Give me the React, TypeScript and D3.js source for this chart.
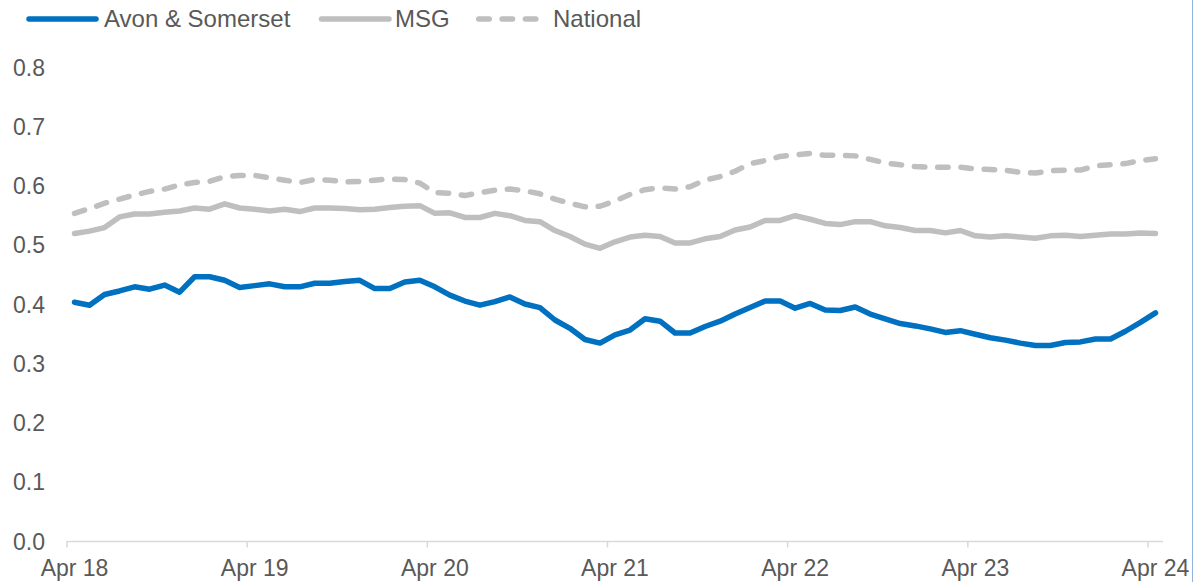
import React, { useEffect, useRef } from 'react';
import * as d3 from 'd3';

const width = 1194, height = 582;

// monthly values, Apr 18 .. Apr 24
const tickLabels = ['Apr 18', 'Apr 19', 'Apr 20', 'Apr 21', 'Apr 22', 'Apr 23', 'Apr 24'];

const avonSomerset = [
  0.403, 0.398, 0.416, 0.422, 0.429, 0.425, 0.432, 0.420, 0.446, 0.446,
  0.440, 0.428, 0.431, 0.434, 0.429, 0.429, 0.435, 0.435, 0.438, 0.440,
  0.426, 0.426, 0.437, 0.440, 0.429, 0.415, 0.405, 0.398, 0.404, 0.412,
  0.400, 0.394, 0.373, 0.359, 0.340, 0.334, 0.348, 0.356, 0.375, 0.371,
  0.351, 0.351, 0.362, 0.371, 0.383, 0.394, 0.405, 0.405, 0.393, 0.401,
  0.390, 0.389, 0.395, 0.383, 0.375, 0.367, 0.363, 0.358, 0.352, 0.355,
  0.349, 0.343, 0.339, 0.334, 0.330, 0.330, 0.335, 0.336, 0.341, 0.341,
  0.354, 0.369, 0.385
];

const msg = [
  0.519, 0.523, 0.529, 0.547, 0.552, 0.552, 0.555, 0.557, 0.562, 0.560,
  0.569, 0.562, 0.560, 0.557, 0.560, 0.556, 0.562, 0.562, 0.561, 0.559,
  0.560, 0.563, 0.565, 0.566, 0.553, 0.554, 0.546, 0.546, 0.553, 0.549,
  0.541, 0.539, 0.524, 0.514, 0.501, 0.494, 0.505, 0.513, 0.516, 0.514,
  0.503, 0.503, 0.510, 0.514, 0.525, 0.530, 0.541, 0.541, 0.549, 0.543,
  0.536, 0.534, 0.539, 0.539, 0.532, 0.529, 0.524, 0.524, 0.520, 0.524,
  0.515, 0.513, 0.515, 0.513, 0.511, 0.515, 0.516, 0.514, 0.516, 0.518,
  0.518, 0.520, 0.519
];

const national = [
  0.553, 0.561, 0.570, 0.577, 0.584, 0.590, 0.594, 0.601, 0.605, 0.607,
  0.615, 0.617, 0.617, 0.613, 0.609, 0.605, 0.610, 0.609, 0.606, 0.607,
  0.609, 0.611, 0.610, 0.604, 0.588, 0.587, 0.583, 0.588, 0.592, 0.594,
  0.591, 0.586, 0.577, 0.570, 0.564, 0.565, 0.574, 0.585, 0.593, 0.596,
  0.594, 0.598, 0.609, 0.615, 0.624, 0.637, 0.642, 0.649, 0.652, 0.654,
  0.651, 0.651, 0.650, 0.644, 0.638, 0.635, 0.632, 0.631, 0.631, 0.631,
  0.628, 0.627, 0.626, 0.622, 0.621, 0.625, 0.626, 0.626, 0.633, 0.635,
  0.637, 0.642, 0.645
];

const series = [
  { name: 'National', values: national, color: '#BFBFBF', dash: '10.5 12.8' },
  { name: 'MSG', values: msg, color: '#BFBFBF', dash: null },
  { name: 'Avon & Somerset', values: avonSomerset, color: '#0070C0', dash: null },
];

const font = '"Liberation Sans", Arial, sans-serif';
const textColor = '#595959';

export default function App() {
  const node = useRef<SVGSVGElement>(null);

  useEffect(() => {
    const svg = d3.select(node.current);
    svg.selectAll('*').remove();

    const n = avonSomerset.length;
    const x = d3.scaleLinear().domain([0, n]).range([67, 1163]);
    const y = d3.scaleLinear().domain([0, 0.8]).range([541, 67]);

    // y labels
    svg.append('g')
      .selectAll('text')
      .data(y.ticks(8))
      .enter().append('text')
      .attr('x', 45)
      .attr('y', d => y(d) + 8.5)
      .attr('text-anchor', 'end')
      .attr('font-family', font)
      .attr('font-size', 23)
      .attr('fill', textColor)
      .text(d => d3.format('.1f')(d));

    // x axis
    svg.append('line')
      .attr('x1', x(0)).attr('x2', x(n))
      .attr('y1', 541.5).attr('y2', 541.5)
      .attr('stroke', '#D9D9D9').attr('stroke-width', 1.5);

    const xt = svg.append('g')
      .selectAll('g')
      .data(tickLabels)
      .enter().append('g')
      .attr('transform', (d, i) => 'translate(' + x(i * 12) + ',0)');
    xt.append('line')
      .attr('y1', 541).attr('y2', 547.5)
      .attr('stroke', '#D9D9D9').attr('stroke-width', 1.5);
    // labels sit on the month's centre, not on the tick
    xt.append('text')
      .attr('x', x(0.5) - x(0))
      .attr('y', 576)
      .attr('text-anchor', 'middle')
      .attr('font-family', font)
      .attr('font-size', 23)
      .attr('fill', textColor)
      .text(d => d);

    const line = d3.line<number>()
      .x((d, i) => x(i + 0.5))
      .y(d => y(d));

    series.forEach(s => {
      const p = svg.append('path')
        .datum(s.values)
        .attr('d', line)
        .attr('fill', 'none')
        .attr('stroke', s.color)
        .attr('stroke-width', 5.5)
        .attr('stroke-linejoin', 'round')
        .attr('stroke-linecap', 'round');
      if (s.dash) p.attr('stroke-dasharray', s.dash);
    });

    // legend
    const legend = [
      { name: 'Avon & Somerset', color: '#0070C0', dash: null, x1: 29, x2: 96, tx: 104 },
      { name: 'MSG', color: '#BFBFBF', dash: null, x1: 321.5, x2: 389, tx: 395 },
      { name: 'National', color: '#BFBFBF', dash: '10.5 12.8', x1: 478.75, x2: 546, tx: 553 },
    ];
    const lg = svg.append('g')
      .selectAll('g')
      .data(legend)
      .enter().append('g');
    lg.append('line')
      .attr('x1', d => d.x1).attr('x2', d => d.x2)
      .attr('y1', 19).attr('y2', 19)
      .attr('stroke', d => d.color)
      .attr('stroke-width', 5.5)
      .attr('stroke-linecap', 'round')
      .attr('stroke-dasharray', d => d.dash);
    lg.append('text')
      .attr('x', d => d.tx)
      .attr('y', 27)
      .attr('font-family', font)
      .attr('font-size', 24)
      .attr('fill', textColor)
      .text(d => d.name);

    // right edge border
    svg.append('line')
      .attr('x1', 1192.5).attr('x2', 1192.5)
      .attr('y1', 0).attr('y2', height)
      .attr('stroke', '#8DB3E2').attr('stroke-width', 1);
  }, []);

  return (
    <svg
      ref={node}
      width={width}
      height={height}
      style={{ position: 'absolute', left: 0, top: 0, background: '#fff' }}
    />
  );
}
